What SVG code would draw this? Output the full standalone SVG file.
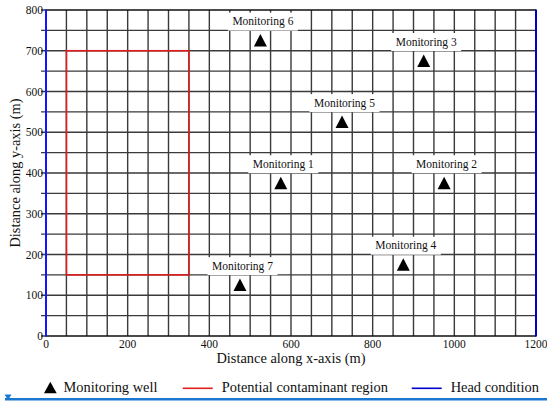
<svg xmlns="http://www.w3.org/2000/svg" xmlns:xlink="http://www.w3.org/1999/xlink" width="547" height="401" viewBox="0 0 547 401">
<style>
.grid{stroke:#3a3a3a;stroke-width:1.4;fill:none}
.tick{font-family:"Liberation Serif","Times New Roman",serif;font-size:11.5px;fill:#111}
.lbl{font-family:"Liberation Serif","Times New Roman",serif;font-size:11.5px;fill:#111;text-anchor:middle}
.title{font-family:"Liberation Serif","Times New Roman",serif;font-size:14.4px;fill:#111}
.box{fill:#fff;stroke:none}
.tri{fill:#000}
</style>
<defs>
<path id="tri" d="M0,-6.5 L6.5,6 L-6.5,6 Z"/>
</defs>
<rect width="547" height="401" fill="#fff"/>
<g id="grid">
<path class="grid" d="M66.42,10V336M86.83,10V336M107.25,10V336M127.67,10V336M148.08,10V336M168.5,10V336M188.92,10V336M209.33,10V336M229.75,10V336M250.17,10V336M270.58,10V336M291,10V336M311.42,10V336M331.83,10V336M352.25,10V336M372.67,10V336M393.08,10V336M413.5,10V336M433.92,10V336M454.33,10V336M474.75,10V336M495.17,10V336M515.58,10V336"/>
<path class="grid" d="M46,30.38H536M46,50.75H536M46,71.13H536M46,91.5H536M46,111.88H536M46,132.25H536M46,152.63H536M46,173H536M46,193.38H536M46,213.75H536M46,234.13H536M46,254.5H536M46,274.88H536M46,295.25H536M46,315.63H536"/>
<path d="M46,10H536M46,336H536" stroke="#111" stroke-width="1.6"/>
<path class="grid" d="M41,10H46M41,30.38H46M41,50.75H46M41,71.13H46M41,91.5H46M41,111.88H46M41,132.25H46M41,152.63H46M41,173H46M41,193.38H46M41,213.75H46M41,234.13H46M41,254.5H46M41,274.88H46M41,295.25H46M41,315.63H46M41,336H46"/>
<line x1="46" y1="9.5" x2="46" y2="336.5" stroke="#1414ff" stroke-width="2"/>
<line x1="536" y1="9.5" x2="536" y2="336.5" stroke="#0000c4" stroke-width="2"/>
</g>
<g id="region">
<rect x="66.42" y="50.75" width="122.5" height="224.13" fill="none" stroke="#e01c1c" stroke-width="1.6"/>
</g>
<g id="yticks" class="tick" text-anchor="end">
<text x="43" y="14">800</text>
<text x="43" y="55">700</text>
<text x="43" y="95.5">600</text>
<text x="43" y="136.3">500</text>
<text x="43" y="177">400</text>
<text x="43" y="217.8">300</text>
<text x="43" y="258.5">200</text>
<text x="43" y="299.3">100</text>
<text x="43" y="340">0</text>
</g>
<g id="xticks" class="tick" text-anchor="middle">
<text x="46" y="348">0</text>
<text x="127.67" y="348">200</text>
<text x="209.33" y="348">400</text>
<text x="291" y="348">600</text>
<text x="372.67" y="348">800</text>
<text x="454.33" y="348">1000</text>
<text x="536" y="348">1200</text>
</g>
<text class="title" x="291" y="363" text-anchor="middle">Distance along x-axis (m)</text>
<text class="title" transform="translate(20,173) rotate(-90)" text-anchor="middle">Distance along y-axis (m)</text>
<g id="m1"><rect class="box" x="248.3" y="155.2" width="70" height="18"/><text class="lbl" x="283.3" y="167.7">Monitoring 1</text><use class="tri" href="#tri" x="280.79" y="183.19"/></g>
<g id="m2"><rect class="box" x="411.6" y="155.2" width="70" height="18"/><text class="lbl" x="446.6" y="167.7">Monitoring 2</text><use class="tri" href="#tri" x="444.13" y="183.19"/></g>
<g id="m3"><rect class="box" x="391.2" y="33" width="70" height="18"/><text class="lbl" x="426.2" y="45.5">Monitoring 3</text><use class="tri" href="#tri" x="423.71" y="60.94"/></g>
<g id="m4"><rect class="box" x="370.8" y="236.7" width="70" height="18"/><text class="lbl" x="405.8" y="249.2">Monitoring 4</text><use class="tri" href="#tri" x="403.29" y="264.69"/></g>
<g id="m5"><rect class="box" x="309.5" y="94.1" width="70" height="18"/><text class="lbl" x="344.5" y="106.6">Monitoring 5</text><use class="tri" href="#tri" x="342.04" y="122.06"/></g>
<g id="m6"><rect class="box" x="227.9" y="12.6" width="70" height="18"/><text class="lbl" x="262.9" y="25.1">Monitoring 6</text><use class="tri" href="#tri" x="260.38" y="40.56"/></g>
<g id="m7"><rect class="box" x="207.5" y="257.1" width="70" height="18"/><text class="lbl" x="242.5" y="269.6">Monitoring 7</text><use class="tri" href="#tri" x="239.96" y="285.06"/></g>
<g id="legend">
<path d="M50.3,381.7 L56.7,393.3 L44,393.3 Z" fill="#000"/>
<text class="title" x="63.5" y="391.7">Monitoring well</text>
<line x1="182.7" y1="388.3" x2="212.7" y2="388.3" stroke="#e01c1c" stroke-width="1.6"/>
<text class="title" x="221.7" y="391.7">Potential contaminant region</text>
<line x1="411.7" y1="388.3" x2="441.7" y2="388.3" stroke="#0000cc" stroke-width="1.6"/>
<text class="title" x="450.7" y="391.7">Head condition</text>
</g>
<g id="bottombar">
<line x1="5" y1="399.3" x2="547" y2="399.3" stroke="#1a78d0" stroke-width="2.6"/>
<path d="M4.5,394.5 L11.5,394.5 L8,400 Z" fill="#1a78d0"/>
</g>
</svg>
